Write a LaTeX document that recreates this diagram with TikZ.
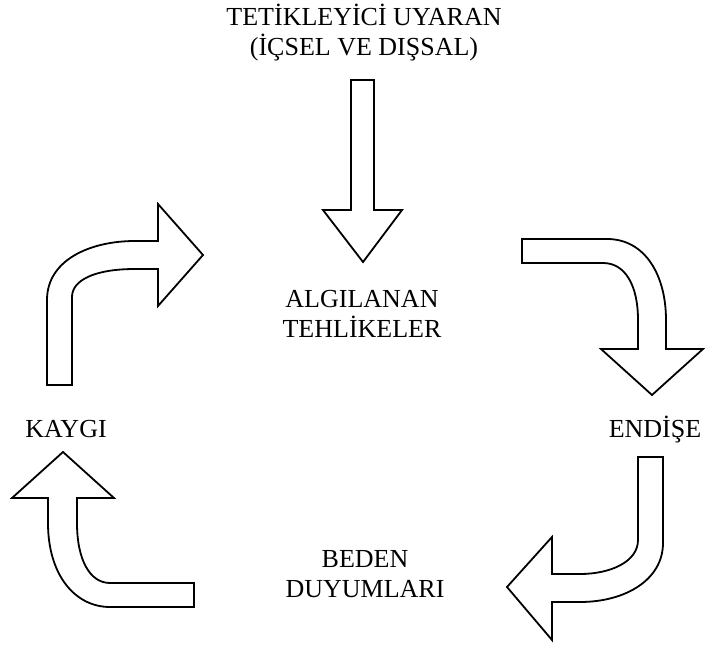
\documentclass[tikz,border=0pt]{standalone}
\usepackage{fontspec}
\setmainfont{Liberation Serif}
\usepackage{tikz}

\begin{document}
\begin{tikzpicture}[
  x=1pt, y=-1pt,
  label/.style={inner sep=0pt, anchor=base, align=center,
                font=\fontsize{26}{30}\selectfont},
  blockarrow/.style={draw=black, fill=white, line width=1.8pt, line join=miter}
]
  \useasboundingbox (0,0) rectangle (705,648);

  \node[label] (trigger)   at (364, 55)  {TETİKLEYİCİ UYARAN\\(İÇSEL VE DIŞSAL)};
  \node[label] (perceived) at (362, 337) {ALGILANAN\\TEHLİKELER};
  \node[label] (anxiety)   at (66, 437)  {KAYGI};
  \node[label] (worry)     at (655, 437) {ENDİŞE};
  \node[label] (body)      at (365, 597) {BEDEN\\DUYUMLARI};

  % straight arrow: trigger -> perceived
  \draw[blockarrow] (351,80) -- (374,80) -- (374,210) -- (402,210) -- (363,262)
    -- (323,210) -- (351,210) -- cycle;

  % perceived -> worry
  \draw[blockarrow] (522,239) -- (607,239)
    .. controls (645,239) and (666,275) .. (666,320) -- (666,349)
    -- (703,349) -- (652,395) -- (601,349) -- (638,349) -- (638,320)
    .. controls (638,285) and (625,263) .. (603,263) -- (522,263) -- cycle;

  % worry -> body
  \draw[blockarrow] (638,457) -- (663,457) -- (663,543)
    .. controls (663,580) and (625,602) .. (580,602) -- (552,602)
    -- (552,640) -- (507,587) -- (552,537) -- (552,574) -- (580,574)
    .. controls (610,574) and (638,562) .. (638,540) -- cycle;

  % body -> anxiety
  \draw[blockarrow] (194,607) -- (110,607)
    .. controls (75,607) and (48,575) .. (48,523) -- (48,498)
    -- (12,498) -- (63,452) -- (114,498) -- (77,498) -- (77,523)
    .. controls (77,560) and (90,583) .. (110,583) -- (194,583) -- cycle;

  % anxiety -> perceived
  \draw[blockarrow] (47,385) -- (47,300)
    .. controls (47,260) and (90,241) .. (135,241) -- (158,241)
    -- (158,204) -- (203,255) -- (158,306) -- (158,269) -- (135,269)
    .. controls (95,269) and (72,280) .. (72,297) -- (72,385) -- cycle;
\end{tikzpicture}
\end{document}
